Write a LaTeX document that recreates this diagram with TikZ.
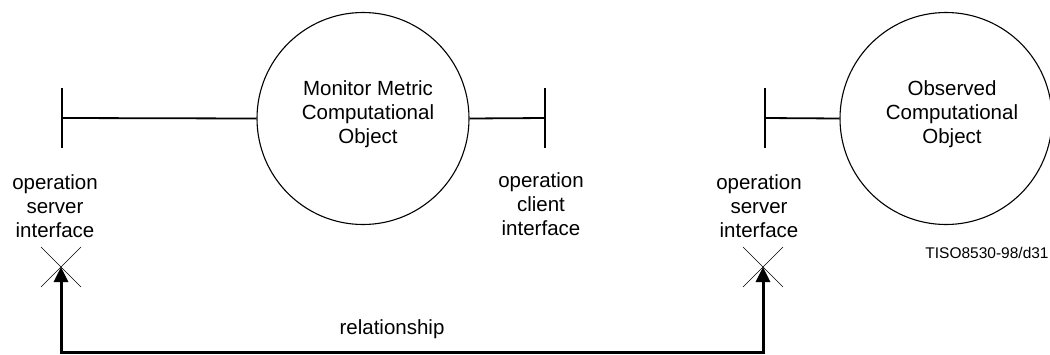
\documentclass[tikz,border=0pt]{standalone}
\usepackage{fontspec}
\setmainfont{Liberation Sans}
\usetikzlibrary{arrows.meta}
\begin{document}
\begin{tikzpicture}[x=1pt,y=-1pt,
  obj/.style={circle,draw,line width=1.1pt,minimum size=212pt,inner sep=0pt},
  lbl/.style={align=center,font=\fontsize{20.5}{24}\selectfont,inner sep=0pt},
  iface/.style={line width=1.8pt},
  crossln/.style={line width=0.6pt},
  rel/.style={line width=3pt,{Triangle[length=15pt,width=14pt]}-{Triangle[length=15pt,width=14pt]}}]
\useasboundingbox (0,0) rectangle (1050,354);
% objects
\node[obj] (mon) at (363,118.5) {};
\node[lbl] (montxt) at (368,114) {Monitor Metric\\Computational\\Object};
\node[obj] (obs) at (946,118.5) {};
\node[lbl] (obstxt) at (952,114) {Observed\\Computational\\Object};
% interfaces
\coordinate (s1) at (62,118);
\coordinate (c1) at (545,118);
\coordinate (s2) at (765,118);
\draw[iface] (62,88) -- (62,148);
\draw[iface] (545,88) -- (545,148);
\draw[iface] (765,88) -- (765,148);
\draw[iface] (s1) -- (mon.west);
\draw[iface] (mon.east) -- (c1);
\draw[iface] (s2) -- (obs.west);
% labels
\node[lbl] (l1) at (55,206) {operation\\server\\interface};
\node[lbl] (l2) at (541,204) {operation\\client\\interface};
\node[lbl] (l3) at (759,206) {operation\\server\\interface};
% crosses
\coordinate (x1) at (61,267);
\coordinate (x2) at (763,267);
\draw[crossln] (41,247) -- (81,287) (41,287) -- (81,247);
\draw[crossln] (743,247) -- (783,287) (743,287) -- (783,247);
% relationship
\coordinate (b) at (400,352);
\draw[rel] (x1) |- (b) -| (x2);
\node[lbl] (reltxt) at (392,329) {relationship};
\node[font=\fontsize{15.5}{18}\selectfont,inner sep=0pt] (tiso) at (987,253) {TISO8530-98/d31};
\end{tikzpicture}
\end{document}
